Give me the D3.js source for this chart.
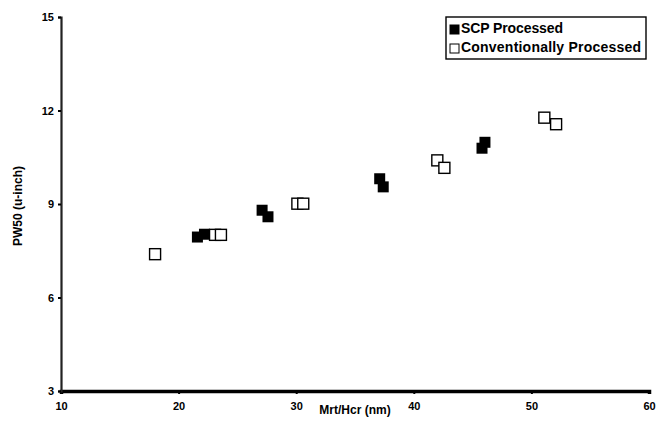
<!DOCTYPE html>
<meta charset="utf-8">
<head>
<script src="https://d3js.org/d3.v7.min.js"></script>
<style>
  body { margin: 0; background: #fff; }
  text { font-family: "Liberation Sans", Arial, sans-serif; font-weight: bold; fill: #000; }
</style>
</head>
<body>
<div id="chart"></div>
<script>
// values
var scpX = [21.6, 22.2, 27.1, 27.6, 37.1, 37.4, 45.8, 46.05];
var scpY = [7.94, 8.03, 8.80, 8.59, 9.81, 9.55, 10.79, 10.98];
var convX = [18.0, 23.1, 23.6, 30.1, 30.6, 42.0, 42.6, 51.1, 52.1];
var convY = [7.39, 8.01, 8.01, 9.01, 9.01, 10.40, 10.16, 11.77, 11.56];
var xTicks = [10, 20, 30, 40, 50, 60];
var yTicks = [3, 6, 9, 12, 15];
var legendLabels = ["SCP Processed", "Conventionally Processed"];

var W = 656, H = 434;
var margin = {top: 17, right: 7, bottom: 43, left: 61};

var svg = d3.select("#chart").append("svg")
    .attr("width", W).attr("height", H);

var x = d3.scaleLinear().domain([10, 60]).range([margin.left, W - margin.right]);
var y = d3.scaleLinear().domain([3, 15]).range([H - margin.bottom, margin.top]);

// axes
var xAxis = svg.append("g")
    .attr("transform", "translate(0," + y(3) + ")")
    .call(d3.axisBottom(x).tickValues(xTicks).tickSize(3).tickPadding(8));
xAxis.select(".domain").attr("stroke-width", 3.5);
xAxis.selectAll("line").attr("stroke-width", 2);
xAxis.selectAll("text").style("font-size", "11px");

var yAxis = svg.append("g")
    .attr("transform", "translate(" + x(10) + ",0)")
    .call(d3.axisLeft(y).tickValues(yTicks).tickSize(3).tickPadding(4));
yAxis.select(".domain").attr("stroke-width", 2.2).attr("stroke", "#222");
yAxis.selectAll("line").attr("stroke-width", 2);
yAxis.selectAll("text").style("font-size", "11px");

svg.append("text")
    .attr("x", 355)
    .attr("y", 414)
    .attr("text-anchor", "middle")
    .style("font-size", "12px")
    .text("Mrt/Hcr (nm)");

svg.append("text")
    .attr("transform", "translate(22," + (y(9) + 2) + ") rotate(-90)")
    .attr("text-anchor", "middle")
    .style("font-size", "12px")
    .text("PW50 (u-inch)");

// points
var s = 11;
var scp = scpX.map(function(d, i) { return {x: d, y: scpY[i]}; });
var conv = convX.map(function(d, i) { return {x: d, y: convY[i]}; });

svg.append("g").selectAll("rect")
    .data(conv)
    .enter().append("rect")
      .attr("x", function(d) { return x(d.x) - s / 2; })
      .attr("y", function(d) { return y(d.y) - s / 2; })
      .attr("width", s).attr("height", s)
      .attr("fill", "#fff")
      .attr("stroke", "#000")
      .attr("stroke-width", 1.4);

svg.append("g").selectAll("rect")
    .data(scp)
    .enter().append("rect")
      .attr("x", function(d) { return x(d.x) - s / 2; })
      .attr("y", function(d) { return y(d.y) - s / 2; })
      .attr("width", s).attr("height", s)
      .attr("fill", "#000");

// legend
var lg = svg.append("g").attr("transform", "translate(446,17)");
lg.append("rect")
    .attr("width", 200).attr("height", 42)
    .attr("fill", "#fff").attr("stroke", "#000").attr("stroke-width", 1.4);
legendLabels.forEach(function(t, i) {
  lg.append("rect")
      .attr("x", 4).attr("y", 8 + i * 19)
      .attr("width", 9).attr("height", 9)
      .attr("fill", i == 0 ? "#000" : "#fff")
      .attr("stroke", "#000").attr("stroke-width", 1);
  lg.append("text")
      .attr("x", 15).attr("y", 16 + i * 19)
      .style("font-size", "14px")
      .attr("textLength", i == 0 ? 102 : 180)
      .text(t);
});
</script>
</body>
